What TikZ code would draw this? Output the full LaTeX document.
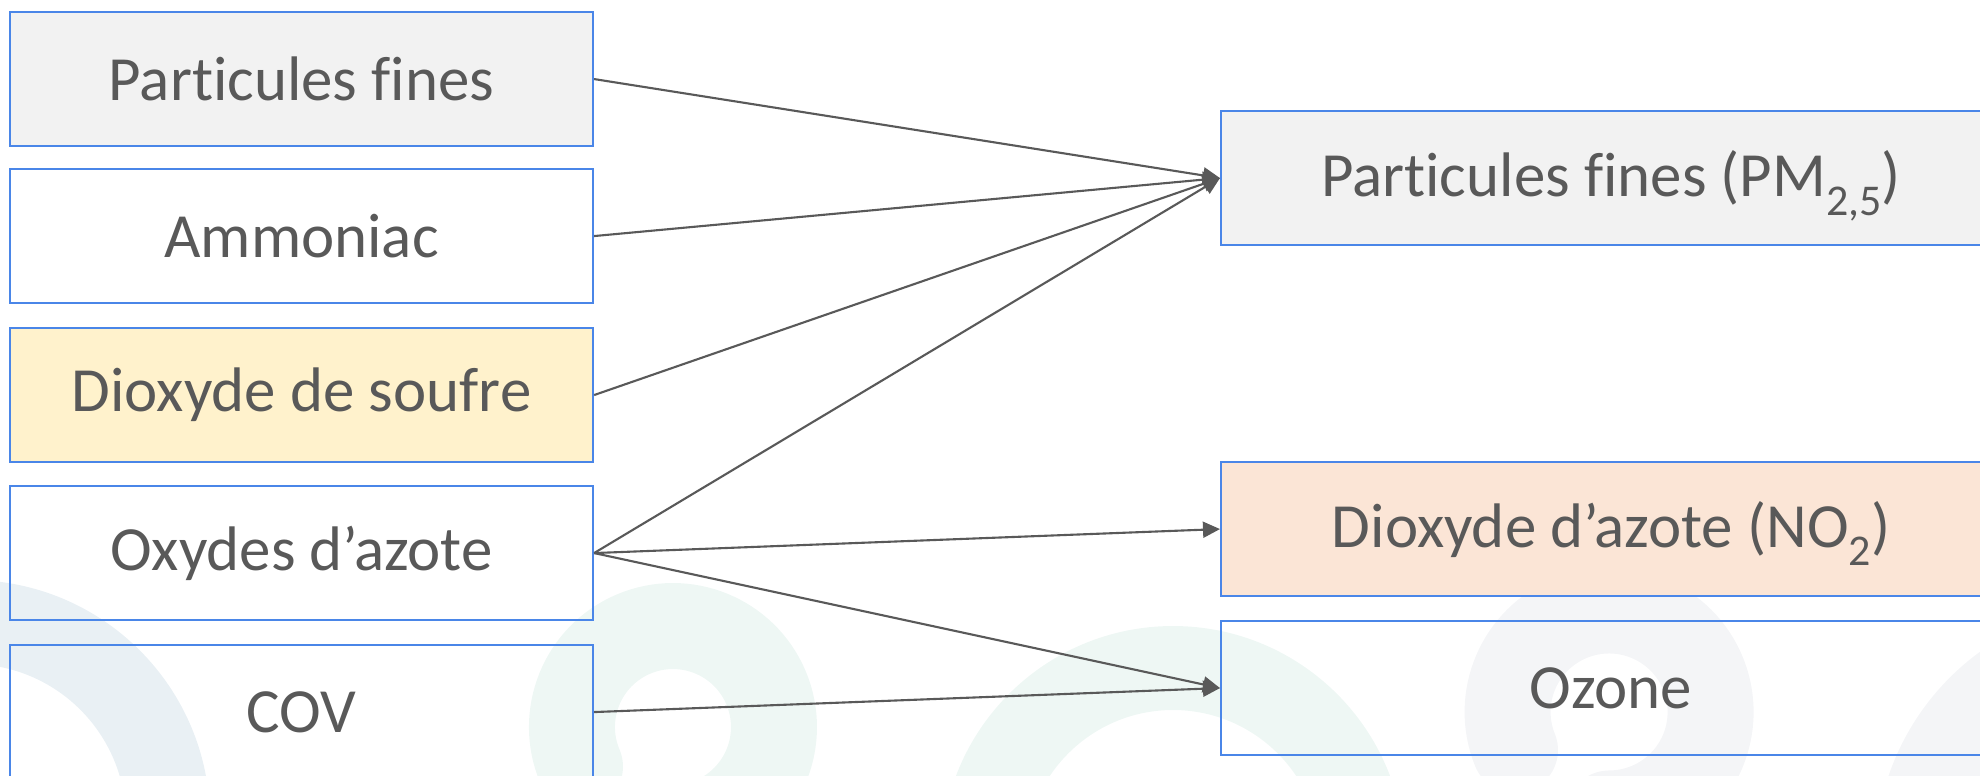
\documentclass[tikz,border=0pt]{standalone}
\usepackage{fontspec}
\setmainfont{Carlito}[Ligatures=NoCommon]
\usetikzlibrary{arrows.meta}
\definecolor{bordblue}{HTML}{4A86E8}
\definecolor{txtgray}{HTML}{595959}
\definecolor{linegray}{HTML}{595959}
\definecolor{fillgray}{HTML}{F2F2F2}
\definecolor{fillyellow}{HTML}{FFF2CC}
\definecolor{fillpeach}{HTML}{FBE5D6}
\definecolor{wmblue}{HTML}{E9F0F4}
\definecolor{wmgreen}{HTML}{EEF7F4}
\definecolor{wmgray}{HTML}{F4F5F7}
\newcommand{\subtxt}[1]{\smash{\raisebox{-0.3em}{\fontsize{12.5}{13}\selectfont #1}}}
\begin{document}
\begin{tikzpicture}[x=0.1mm,y=-0.1mm,
  box/.style={draw=bordblue,line width=0.6pt,minimum width=58.3mm,minimum height=13.4mm,
    inner sep=0pt,text=txtgray,font=\fontsize{17.9}{20}\selectfont,anchor=north west},
  rbox/.style={box,minimum width=78mm},
  conn/.style={draw=linegray,line width=0.6pt,-{Triangle[length=1.7mm,width=1.6mm]}},
  wmring/.style={even odd rule},
  wmarc/.style={line width=8.6mm,line cap=round}]
\useasboundingbox (0,0) rectangle (1980,775);
\clip (0,0) rectangle (1980,775);
% watermark shapes
\fill[wmblue,wmring] (-30,820) circle (240) (-30,820) circle (156);
\draw[wmgreen,wmarc] (580,766.5) arc[start angle=157,end angle=450,radius=101];
\fill[wmgreen,wmring] (1173,858) circle (232) (1173,858) circle (148);
\draw[wmgray,wmarc] (1515,750) arc[start angle=158,end angle=450,radius=101.5];
\fill[wmgray,wmring] (2130,858) circle (255) (2130,858) circle (170);
% left boxes
\node[box,fill=fillgray] (pf) at (9,11) {Particules fines};
\node[box] (am) at (9,168) {Ammoniac};
\node[box,fill=fillyellow] (so) at (9,327) {Dioxyde de soufre};
\node[box] (ox) at (9,485) {Oxydes d’azote};
\node[box] (cov) at (9,644) {COV};
% right boxes
\node[rbox,fill=fillgray] (pm) at (1220,110) {Particules fines (PM\subtxt{2,5})};
\node[rbox,fill=fillpeach] (no) at (1220,461) {Dioxyde d’azote (NO\subtxt{2})};
\node[rbox] (oz) at (1220,620) {Ozone};
% connectors
\draw[conn] (pf.east) -- (pm.west);
\draw[conn] (am.east) -- (pm.west);
\draw[conn] (so.east) -- (pm.west);
\draw[conn] (ox.east) -- (pm.west);
\draw[conn] (ox.east) -- (no.west);
\draw[conn] (ox.east) -- (oz.west);
\draw[conn] (cov.east) -- (oz.west);
\end{tikzpicture}
\end{document}
